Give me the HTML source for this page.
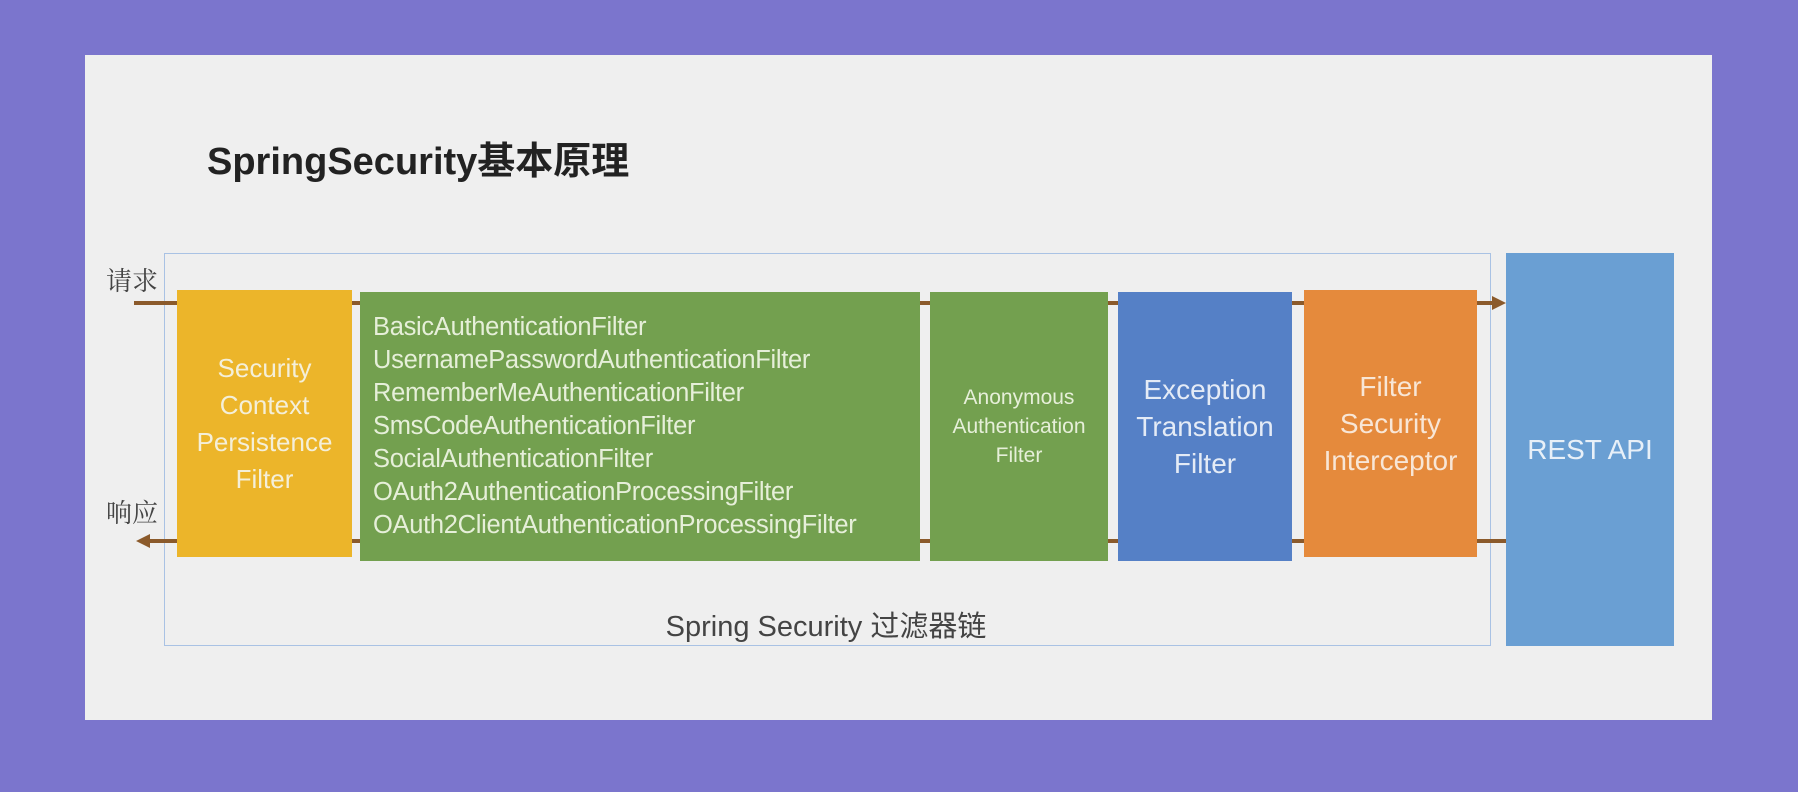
<!DOCTYPE html>
<html><head><meta charset="utf-8"><style>
*{margin:0;padding:0;box-sizing:border-box}
body{width:1798px;height:792px;background:#7b75cd;position:relative;overflow:hidden;font-family:"Liberation Sans","Noto Sans CJK SC",sans-serif}
.slide{position:absolute;left:85px;top:55px;width:1627px;height:665px;background:#efefef}
.a{position:absolute}
.box{position:absolute;color:#f4efd9;display:flex;align-items:center;justify-content:center;text-align:center}
.line{position:absolute;height:4px;background:#8b5a2b}
</style></head><body>
<div class="slide"></div>
<div class="a" style="left:207px;top:130px;font-size:38px;font-weight:bold;color:#222">SpringSecurity基本原理</div>
<div class="a" style="left:164px;top:253px;width:1327px;height:393px;border:1.5px solid #a9c2e4"></div>
<div class="a" style="left:106px;top:261px;font-size:26px;color:#444;font-family:'Noto Serif CJK SC',serif">请求</div>
<div class="a" style="left:106px;top:493px;font-size:26px;color:#444;font-family:'Noto Serif CJK SC',serif">响应</div>
<div class="line" style="left:134px;top:301px;width:1358px"></div>
<div class="line" style="left:148px;top:539px;width:1358px"></div>
<svg class="a" style="left:0;top:0" width="1798" height="792">
<polygon points="1506,303 1492,296 1492,310" fill="#8b5a2b"/>
<polygon points="136,541 150,534 150,548" fill="#8b5a2b"/>
</svg>
<div class="box" style="left:177px;top:290px;width:175px;height:267px;background:#ecb52a;font-size:26px;line-height:37px">Security<br>Context<br>Persistence<br>Filter</div>
<div class="box" style="left:360px;top:292px;width:560px;height:269px;background:#73a04f;justify-content:flex-start;text-align:left;padding-left:13px;font-size:25.5px;line-height:33px;color:#e6efd9;letter-spacing:-0.3px">BasicAuthenticationFilter<br>UsernamePasswordAuthenticationFilter<br>RememberMeAuthenticationFilter<br>SmsCodeAuthenticationFilter<br>SocialAuthenticationFilter<br>OAuth2AuthenticationProcessingFilter<br>OAuth2ClientAuthenticationProcessingFilter</div>
<div class="box" style="left:930px;top:292px;width:178px;height:269px;background:#73a04f;font-size:21px;line-height:29px;color:#e6efd9">Anonymous<br>Authentication<br>Filter</div>
<div class="box" style="left:1118px;top:292px;width:174px;height:269px;background:#5580c6;font-size:28px;line-height:37px;color:#e4ebf6">Exception<br>Translation<br>Filter</div>
<div class="box" style="left:1304px;top:290px;width:173px;height:267px;background:#e58a3c;font-size:28px;line-height:37px;color:#f8e6d6">Filter<br>Security<br>Interceptor</div>
<div class="box" style="left:1506px;top:253px;width:168px;height:393px;background:#6a9fd3;font-size:28px;color:#e8f0f8">REST API</div>
<div class="a" style="left:576px;top:603px;width:500px;text-align:center;font-size:29px;color:#444">Spring Security 过滤器链</div>
</body></html>
